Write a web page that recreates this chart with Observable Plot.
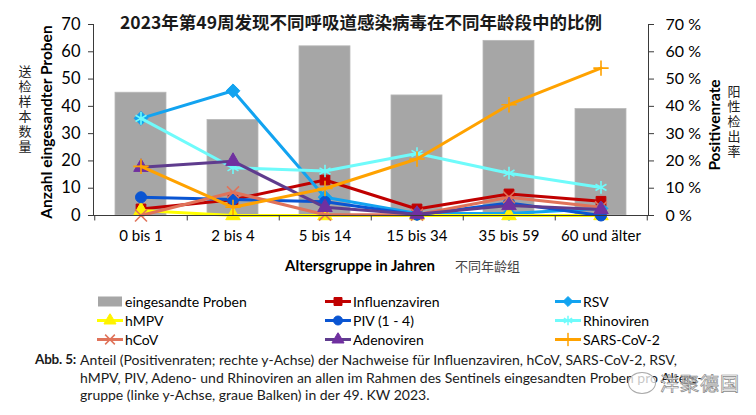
<!DOCTYPE html>
<html><head><meta charset="utf-8">
<script src="https://cdn.jsdelivr.net/npm/d3@7"></script>
<script src="https://cdn.jsdelivr.net/npm/@observablehq/plot@0.6"></script>
<style>
body{margin:0;background:#fff;}
#wrap{position:relative;width:756px;height:415px;overflow:hidden;font-family:Lato,"Noto Sans CJK SC",sans-serif;color:#000;}
#wrap svg.plot{position:absolute;left:0;top:0;}
.abs{position:absolute;white-space:nowrap;}
.title{left:361px;top:21px;transform:translate(-50%,-50%);font-family:"Noto Sans CJK SC",sans-serif;font-weight:bold;font-size:17.5px;color:#1a1a1a;}
.rot{transform:translate(-50%,-50%) rotate(-90deg);font-weight:bold;font-size:15.5px;}
.vert{writing-mode:vertical-rl;font-family:"Noto Sans CJK SC",sans-serif;font-size:13px;letter-spacing:2px;color:#222;transform:translate(-50%,0);}
.xt{left:285px;top:265px;transform:translateY(-50%);font-weight:bold;font-size:15px;}
.xtc{left:455px;top:265px;transform:translateY(-50%);font-family:"Noto Sans CJK SC",sans-serif;font-size:13px;color:#444;}
.leg{position:absolute;display:flex;align-items:center;font-size:14px;transform:translateY(-50%);white-space:nowrap;}
.leg svg{margin-right:1px;}
.cap{position:absolute;left:35px;top:351px;font-size:14px;line-height:17.5px;display:flex;color:#1a1a1a;}
.cap b{width:45px;flex:none;font-size:13.5px;letter-spacing:-0.2px;}
.wm{left:660px;top:382px;transform:translateY(-50%);font-family:"Noto Sans CJK SC",sans-serif;font-size:19px;color:rgba(255,255,255,0.8);-webkit-text-stroke:0.7px #8a8a8a;letter-spacing:1px;}
.wmi{left:628px;top:372px;width:26px;height:20px;border:1.2px solid #aaa;border-radius:50%;background:rgba(255,255,255,0.75);}
</style></head><body><div id="wrap"></div>
<script>
const ageGroups = ["0 bis 1","2 bis 4","5 bis 14","15 bis 34","35 bis 59","60 und älter"];
const samples = [45, 35, 62, 44, 64, 39];
const influenza = [2.4, 5.8, 13, 2.4, 7.9, 5.2];
const rsv = [35.6, 45.7, 6.7, 0.7, 0.7, 2.6];
const hmpv = [1.8, 0, 0, 0, 0, 0];
const piv = [6.7, 5.9, 5.0, 0.3, 4.6, 0];
const rhino = [35.6, 17.5, 16.3, 22.7, 15.5, 10.3];
const hcov = [0, 8.5, 0.3, 0.3, 6.7, 3.0];
const adeno = [17.7, 19.9, 3.0, 0.5, 3.7, 2.2];
const sars = [18, 3, 9.9, 20.7, 40.6, 54];

const seriesNames = ["Influenzaviren","RSV","hMPV","PIV (1 - 4)","Rhinoviren","hCoV","Adenoviren","SARS-CoV-2"];
const seriesValues = [influenza, rsv, hmpv, piv, rhino, hcov, adeno, sars];
const lineColors = ["#C00000","#12A3F0","#FFFF00","#0A55D2","#6FFBFB","#E0735A","#5F3C8E","#FFA200"];
const markColors = ["#C00000","#12A3F0","#FFF200","#0A55D2","#6FFBFB","#E0735A","#7030A0","#FFA200"];
const symbols = ["square","diamond2","triangle","circle","asterisk","times","triangle","plus"];
const symbolR = [5.5, 6.2, 5.4, 5.5, 6, 5.5, 5.4, 5];
const strokeSymbols = new Set(["asterisk","times","plus"]);
const yTicks = [0,10,20,30,40,50,60,70];
const barLabel = "eingesandte Proben";

const W = 756, H = 280, mL = 93, mR = 108, mT = 24, mB = 65;
const step = (W - mL - mR) / ageGroups.length;

const barData = ageGroups.map((g, i) => ({g, v: samples[i]}));
const marks = [
  Plot.barY(barData, {x: "g", y: "v", fill: "#A6A6A6", stroke: "#B8B8B8", strokeWidth: 0.8}),
];
seriesNames.forEach((name, k) => {
  const data = ageGroups.map((g, i) => ({g, v: seriesValues[k][i]}));
  marks.push(Plot.line(data, {x: "g", y: "v", stroke: lineColors[k], strokeWidth: 3, curve: "linear"}));
  const isStroke = strokeSymbols.has(symbols[k]);
  marks.push(Plot.dot(data, {x: "g", y: "v", symbol: symbols[k], r: symbolR[k],
    fill: isStroke ? "none" : markColors[k], stroke: markColors[k], strokeWidth: isStroke ? 1.6 : 1}));
});
marks.push(
  Plot.ruleY([0], {stroke: "#3a3a3a", strokeWidth: 1.2}),
  Plot.frame({anchor: "left", stroke: "#3a3a3a"}),
  Plot.frame({anchor: "right", stroke: "#3a3a3a"}),
  Plot.ruleX(ageGroups, {x: d => d, dx: step / 2, y1: 0, y2: -2, stroke: "#3a3a3a"}),
  Plot.ruleX([ageGroups[0]], {x: d => d, dx: -step / 2, y1: 0, y2: -2, stroke: "#3a3a3a"}),
  Plot.axisY(yTicks, {anchor: "left", tickSize: 5, tickPadding: 8, fontSize: 16.5, label: null, stroke: "#3a3a3a"}),
  Plot.axisY(yTicks, {anchor: "right", tickSize: 5, tickPadding: 12, fontSize: 16, label: null, tickFormat: d => d + " %", stroke: "#3a3a3a"}),
  Plot.axisX({tickSize: 0, tickPadding: 15, fontSize: 15, label: null})
);

const chart = Plot.plot({
  width: W, height: H,
  marginLeft: mL, marginRight: mR, marginTop: mT, marginBottom: mB,
  x: {type: "band", domain: ageGroups, paddingInner: 0.444, paddingOuter: 0.222},
  y: {domain: [0, 70]},
  style: {fontFamily: "Lato, sans-serif", color: "#000", background: "transparent", overflow: "visible"},
  marks
});
chart.classList.add("plot");
const wrap = document.getElementById("wrap");
wrap.appendChild(chart);

function add(cls, html, style) {
  const d = document.createElement("div");
  d.className = "abs " + cls;
  d.innerHTML = html;
  if (style) d.style.cssText += style;
  wrap.appendChild(d);
  return d;
}
add("title", "2023年第49周发现不同呼吸道感染病毒在不同年龄段中的比例");
add("rot", "Anzahl eingesandter Proben", "left:46px;top:122px;");
add("vert", "送检样本数量", "left:25px;top:65px;");
add("rot", "Positivenrate", "left:714px;top:125px;");
add("vert", "阳性检出率", "left:734px;top:85px;");
add("xt", "Altersgruppe in Jahren");
add("xtc", "不同年龄组");

const legendItems = [{name: barLabel, bar: true}].concat(seriesNames.map((n, k) => ({name: n, k})));
const colX = [97, 325, 555], rowY = [301, 320, 339];
const symMap = {square: d3.symbolSquare, diamond2: d3.symbolDiamond2, triangle: d3.symbolTriangle, circle: d3.symbolCircle,
  asterisk: d3.symbolAsterisk, times: d3.symbolTimes, plus: d3.symbolPlus};
legendItems.forEach((it, i) => {
  const d = document.createElement("div");
  d.className = "leg";
  d.style.left = colX[i % 3] + "px";
  d.style.top = rowY[Math.floor(i / 3)] + "px";
  const svg = d3.create("svg").attr("width", 27).attr("height", 14);
  if (it.bar) {
    svg.append("rect").attr("x", 1).attr("y", 2).attr("width", 24).attr("height", 10).attr("fill", "#A6A6A6");
  } else {
    const k = it.k;
    svg.append("line").attr("x1", 0).attr("x2", 26).attr("y1", 7).attr("y2", 7)
      .attr("stroke", lineColors[k]).attr("stroke-width", 3);
    const isStroke = strokeSymbols.has(symbols[k]);
    svg.append("path").attr("transform", "translate(13,7)")
      .attr("d", d3.symbol(symMap[symbols[k]], Math.PI * 4.5 * 4.5)())
      .attr("fill", isStroke ? "none" : markColors[k]).attr("stroke", markColors[k]).attr("stroke-width", isStroke ? 1.5 : 1);
  }
  d.appendChild(svg.node());
  const s = document.createElement("span");
  s.textContent = it.name;
  d.appendChild(s);
  wrap.appendChild(d);
});

const cap = document.createElement("div");
cap.className = "cap";
cap.innerHTML = "<b>Abb. 5:</b><div>Anteil (Positivenraten; rechte y-Achse) der Nachweise für Influenzaviren, hCoV, SARS-CoV-2, RSV,<br>hMPV, PIV, Adeno- und Rhinoviren an allen im Rahmen des Sentinels eingesandten Proben pro Alters-<br>gruppe (linke y-Achse, graue Balken) in der 49. KW 2023.</div>";
wrap.appendChild(cap);
add("wmi", "");
add("wm", "洋聚德国");
</script></body></html>
